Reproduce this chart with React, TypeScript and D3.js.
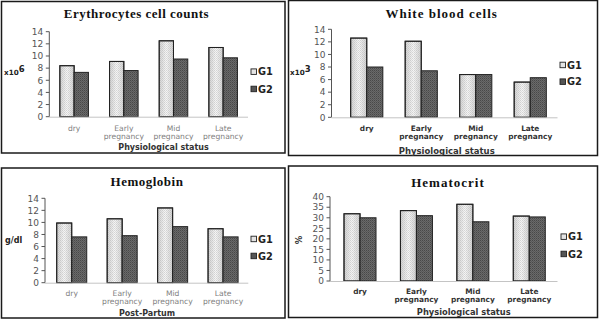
import React from "react";
import * as d3 from "d3";

const categories = ["dry", "Early pregnancy", "Mid pregnancy", "Late pregnancy"];
const seriesNames = ["G1", "G2"];

const rbcG1 = [8.4, 9.1, 12.5, 11.4];
const rbcG2 = [7.3, 7.6, 9.5, 9.7];
const wbcG1 = [12.6, 12.1, 6.8, 5.6];
const wbcG2 = [8.0, 7.4, 6.8, 6.3];
const hbG1 = [9.9, 10.6, 12.4, 8.95];
const hbG2 = [7.6, 7.8, 9.3, 7.6];
const hctG1 = [31.9, 33.4, 36.4, 30.8];
const hctG2 = [30.0, 31.0, 28.1, 30.4];

const ticks14 = [0, 2, 4, 6, 8, 10, 12, 14];
const ticks40 = [0, 5, 10, 15, 20, 25, 30, 35, 40];

type Cfg = {
  title: string;
  g1: number[];
  g2: number[];
  ticks: number[];
  xTitle: string;
  yLabel: string;
  ySup?: string;
  rotateY?: boolean;
  bold: boolean;
  box: [number, number, number, number];
  axisX: number;
  band: [number, number];
  yRange: [number, number];
  pad: number;
  titleX: number;
  titleY: number;
  titleSp: number;
  yLabelX: number;
  yLabelY: number;
  xLabY: number;
  xTitleX: number;
  xTitleY: number;
  xTitleSize: number;
  legX: number;
  legY: [number, number];
};

const panels: Cfg[] = [
  {
    title: "Erythrocytes cell counts", g1: rbcG1, g2: rbcG2, ticks: ticks14,
    xTitle: "Physiological status", yLabel: "x10", ySup: "6", bold: false,
    box: [1.5, 1.5, 283.5, 151.5], axisX: 49.3, band: [49.3, 248], yRange: [116.7, 31.7], pad: 0.425,
    titleX: 136.5, titleY: 17.5, titleSp: 0.5, yLabelX: 4, yLabelY: 75,
    xLabY: 130.5, xTitleX: 163.5, xTitleY: 150, xTitleSize: 8,
    legX: 251, legY: [71.7, 89],
  },
  {
    title: "White blood cells", g1: wbcG1, g2: wbcG2, ticks: ticks14,
    xTitle: "Physiological status", yLabel: "x10", ySup: "3", bold: true,
    box: [288.5, 0.5, 309, 155], axisX: 331.5, band: [339.5, 557.5], yRange: [117.3, 29.3], pad: 0.41,
    titleX: 441.7, titleY: 18, titleSp: 1, yLabelX: 290, yLabelY: 75,
    xLabY: 130.5, xTitleX: 446.7, xTitleY: 153.5, xTitleSize: 8.5,
    legX: 560, legY: [65, 81.7],
  },
  {
    title: "Hemoglobin", g1: hbG1, g2: hbG2, ticks: ticks14,
    xTitle: "Post-Partum", yLabel: "g/dl", bold: false,
    box: [1.5, 168, 283.5, 150], axisX: 45, band: [46.5, 248.3], yRange: [282.7, 198.3], pad: 0.405,
    titleX: 147, titleY: 185.5, titleSp: 0.5, yLabelX: 5, yLabelY: 243,
    xLabY: 295.5, xTitleX: 147, xTitleY: 315.5, xTitleSize: 8,
    legX: 251, legY: [239, 256],
  },
  {
    title: "Hematocrit", g1: hctG1, g2: hctG2, ticks: ticks40,
    xTitle: "Physiological status", yLabel: "%", rotateY: true, bold: true,
    box: [288.5, 166, 309, 151.5], axisX: 330, band: [331.8, 557.5], yRange: [281, 196.7], pad: 0.433,
    titleX: 448, titleY: 186.5, titleSp: 1, yLabelX: 299, yLabelY: 240,
    xLabY: 293.5, xTitleX: 463.7, xTitleY: 314.5, xTitleSize: 8.3,
    legX: 561, legY: [236.7, 254],
  },
];

const sans = "'DejaVu Sans', Verdana, sans-serif";
const serif = "'Liberation Serif', 'Times New Roman', serif";

function Panel({ c }: { c: Cfg }) {
  const maxT = c.ticks[c.ticks.length - 1];
  const y = d3.scaleLinear().domain([0, maxT]).range(c.yRange);
  const x = d3
    .scaleBand<string>()
    .domain(categories)
    .range(c.band)
    .paddingInner(c.pad)
    .paddingOuter(c.pad / 2);
  const xs = d3.scaleBand<string>().domain(seriesNames).range([0, x.bandwidth()]);
  const vals = [c.g1, c.g2];
  const [bx, by, bw, bh] = c.box;
  return (
    <g>
      <rect x={bx} y={by} width={bw} height={bh} fill="#fff" stroke="#1a1a1a" strokeWidth={1.5} />
      <text x={c.titleX} y={c.titleY} textAnchor="middle" fontFamily={serif} fontWeight="bold"
        fontSize={13} letterSpacing={c.titleSp} fill="#111">{c.title}</text>
      <line x1={c.axisX} x2={c.axisX} y1={y(maxT)} y2={y(0)} stroke="#555" strokeWidth={1} />
      {c.ticks.map((t) => (
        <g key={t}>
          <line x1={c.axisX - 3.5} x2={c.axisX} y1={y(t)} y2={y(t)} stroke="#555" strokeWidth={1} />
          <text x={c.axisX - 6} y={y(t)} dy="0.36em" textAnchor="end" fontFamily={sans}
            fontSize={9} fill="#555">{t}</text>
        </g>
      ))}
      {categories.map((cat, i) =>
        seriesNames.map((s, j) => {
          const v = vals[j][i];
          const x0 = (x(cat) as number) + (xs(s) as number);
          return (
            <g key={cat + s}>
              <rect x={x0} y={y(v)} width={xs.bandwidth()} height={y(0) - y(v)}
                fill={j === 0 ? "url(#gG1)" : "url(#pG2)"} stroke="#222" strokeWidth={1} />
              {j === 0 && (
                <rect x={x0} y={y(v)} width={xs.bandwidth()} height={y(0) - y(v)}
                  fill="url(#pG1)" stroke="#222" strokeWidth={1} />
              )}
            </g>
          );
        })
      )}
      <line x1={c.axisX} x2={c.band[1]} y1={y(0) + 0.5} y2={y(0) + 0.5} stroke="#c4c4c4" strokeWidth={1} />
      {categories.map((cat) => {
        const cx = (x(cat) as number) + x.bandwidth() / 2;
        const parts = cat.split(" ");
        return (
          <text key={cat} textAnchor="middle" fontFamily={sans}
            fontSize={c.bold ? 7.4 : 7.6} fontWeight={c.bold ? "bold" : "normal"}
            fill={c.bold ? "#333" : "#808080"}>
            {parts.map((p, k) => (
              <tspan key={k} x={cx} y={c.xLabY + k * 8.8}>{p}</tspan>
            ))}
          </text>
        );
      })}
      <text x={c.xTitleX} y={c.xTitleY} textAnchor="middle" fontFamily={sans} fontWeight="bold"
        fontSize={c.xTitleSize} fill="#333">{c.xTitle}</text>
      {c.rotateY ? (
        <text x={c.yLabelX} y={c.yLabelY} textAnchor="middle" dy="0.35em" fontFamily={sans}
          fontWeight="bold" fontSize={8.5} fill="#333"
          transform={`rotate(-90 ${c.yLabelX} ${c.yLabelY})`}>{c.yLabel}</text>
      ) : (
        <text x={c.yLabelX} y={c.yLabelY} fontFamily={sans} fontWeight="bold" fontSize={c.ySup ? 7.2 : 8}
          fill="#222">
          {c.yLabel}
          {c.ySup && <tspan dy={-3.5} fontSize={8.5}>{c.ySup}</tspan>}
        </text>
      )}
      {seriesNames.map((s, j) => (
        <g key={s}>
          <rect x={c.legX} y={c.legY[j] - 2.8} width={5.5} height={5.5}
            fill={j === 0 ? "#e4e4e4" : "#555"} stroke="#222" strokeWidth={0.9} />
          <text x={c.legX + 7} y={c.legY[j]} dy="0.36em" fontFamily={sans} fontWeight="bold"
            fontSize={9.8} fill="#222">{s}</text>
        </g>
      ))}
    </g>
  );
}

export default function App() {
  return (
    <svg width={600} height={327} style={{ position: "absolute", left: 0, top: 0, background: "#fff" }}>
      <defs>
        <linearGradient id="gG1" x1="0" x2="1" y1="0" y2="0">
          <stop offset="0" stopColor="#d2d2d2" />
          <stop offset="0.5" stopColor="#f6f6f6" />
          <stop offset="1" stopColor="#d2d2d2" />
        </linearGradient>
        <pattern id="pG1" width="2" height="2" patternUnits="userSpaceOnUse">
          <rect x="0" y="0" width="1" height="1" fill="#9a9a9a" opacity="0.35" />
          <rect x="1" y="1" width="1" height="1" fill="#9a9a9a" opacity="0.25" />
        </pattern>
        <pattern id="pG2" width="2" height="2" patternUnits="userSpaceOnUse">
          <rect width="2" height="2" fill="#6a6a6a" />
          <rect x="0" y="0" width="1" height="1" fill="#484848" />
          <rect x="1" y="1" width="1" height="1" fill="#585858" />
        </pattern>
      </defs>
      {panels.map((c) => (
        <Panel key={c.title} c={c} />
      ))}
    </svg>
  );
}
